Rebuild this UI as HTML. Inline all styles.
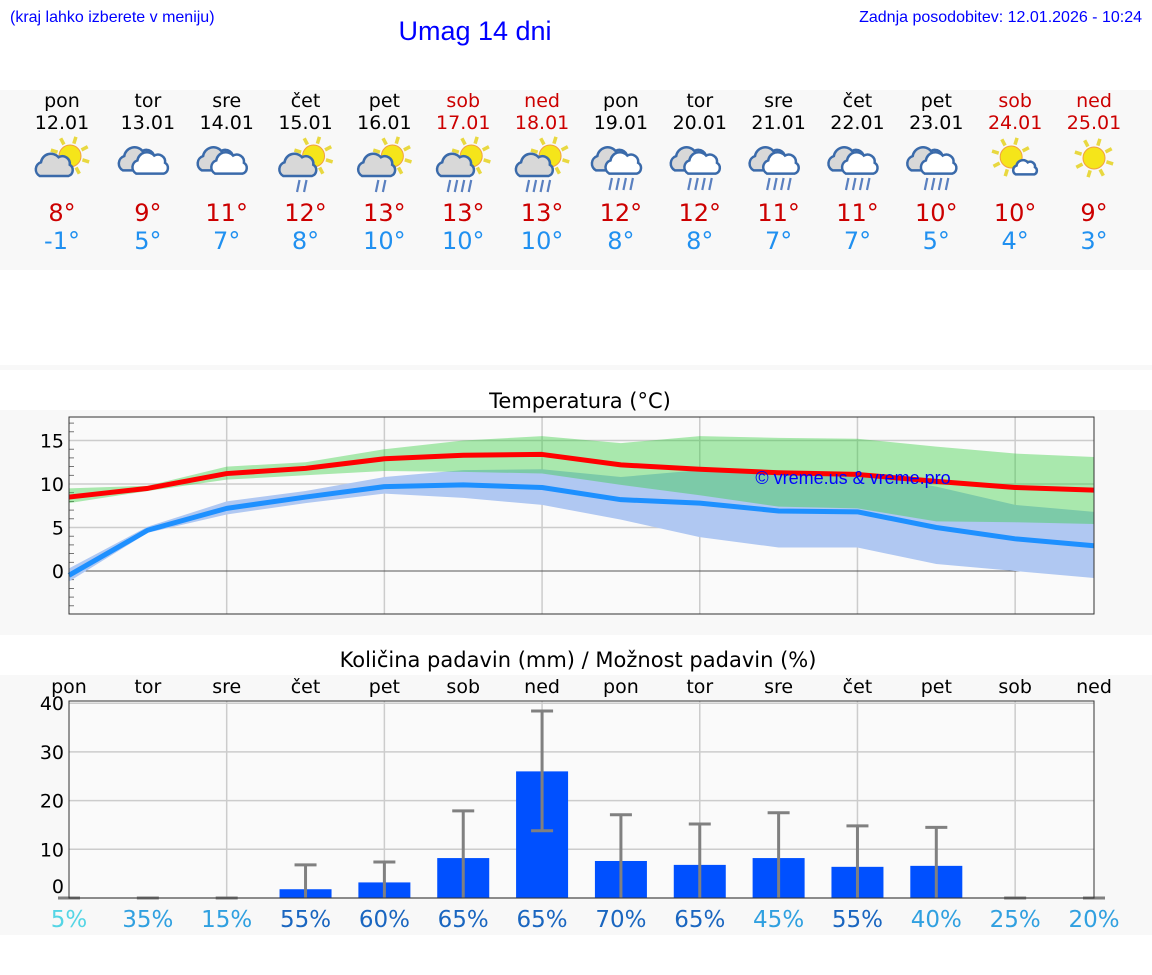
<!DOCTYPE html>
<html><head><meta charset="utf-8"><style>
body{margin:0;background:#fff;width:1152px;height:975px;overflow:hidden}
svg{display:block}
.dj{font-family:"DejaVu Sans","Liberation Sans",sans-serif}
.ar{font-family:"Liberation Sans",Arial,sans-serif}
</style></head><body>
<svg id="s" width="1152" height="975" xmlns="http://www.w3.org/2000/svg">
<text x="10" y="22" class="ar" font-size="16" fill="#0000ff">(kraj lahko izberete v meniju)</text>
<text x="475" y="40" class="ar" font-size="27" fill="#0000ff" text-anchor="middle">Umag 14 dni</text>
<text x="1142" y="22" class="ar" font-size="16" fill="#0000ff" text-anchor="end">Zadnja posodobitev: 12.01.2026 - 10:24</text>
<rect x="0" y="90" width="1152" height="180" fill="#f8f8f8"/>
<rect x="0" y="365" width="1152" height="5" fill="#f8f8f8"/>
<rect x="0" y="410" width="1152" height="225" fill="#f8f8f8"/>
<rect x="0" y="675" width="1152" height="260" fill="#f8f8f8"/>
<g id="daily"></g>
<g id="temp"></g>
<g id="prec"></g>
</svg>
<script>
const dayNames=["pon","tor","sre","čet","pet","sob","ned","pon","tor","sre","čet","pet","sob","ned"];
const dates=["12.01","13.01","14.01","15.01","16.01","17.01","18.01","19.01","20.01","21.01","22.01","23.01","24.01","25.01"];
const icons=["psc","cc","cc","psr","psr","psr2","psr2","cr","cr","cr","cr","cr","sc","s"];
const tMaxDay=[8,9,11,12,13,13,13,12,12,11,11,10,10,9];
const tMinDay=[-1,5,7,8,10,10,10,8,8,7,7,5,4,3];
const tMax=[8.5,9.5,11.2,11.8,12.9,13.3,13.4,12.2,11.7,11.3,11.1,10.3,9.6,9.3];
const tMin=[-0.5,4.7,7.2,8.5,9.7,9.9,9.6,8.2,7.8,6.9,6.8,5.0,3.7,2.9];
const maxHi=[9.5,9.8,12,12.5,14,15,15.5,14.7,15.5,15.3,15.2,14.3,13.5,13.1];
const maxLo=[7.8,9.2,10.5,11,11.5,11.4,11.2,9.9,8.7,7.4,7.2,5.7,5.6,5.4];
const minHi=[0.3,5.1,8,9.2,10.8,11.6,11.7,10.8,11.6,11.5,11.2,9.7,7.6,6.8];
const minLo=[-1.2,4.4,6.5,7.8,8.9,8.4,7.6,5.9,3.9,2.7,2.7,0.8,0,-0.8];
const tempTicks=[0,5,10,15];
const precip=[0,0,0,1.8,3.2,8.2,26,7.6,6.8,8.2,6.4,6.6,0,0];
const precipHi=[0,0,0,6.8,7.4,17.9,38.4,17.1,15.2,17.5,14.8,14.5,0,0];
const precipLo=[0,0,0,0,0,0,13.8,0,0,0,0,0,0,0];
const probability=[5,35,15,55,60,65,65,70,65,45,55,40,25,20];
const precipTicks=[0,10,20,30,40];
const NS="http://www.w3.org/2000/svg";
function mk(p,tag,attrs,txt){const e=document.createElementNS(NS,tag);for(const k in attrs)e.setAttribute(k,attrs[k]);if(txt!==undefined)e.textContent=txt;p.appendChild(e);return e;}
const X0=69,X1=1094,dx=(X1-X0)/13;
const xd=i=>X0+i*dx;
const dcol=i=>(i==5||i==6||i==12||i==13)?"#cc0000":"#000";
const D=document.getElementById('daily');
function sun(g,cx,cy,r){
  for(let a=0;a<8;a++){const an=a*Math.PI/4+0.3;mk(g,'line',{x1:cx+Math.cos(an)*(r+2),y1:cy+Math.sin(an)*(r+2),x2:cx+Math.cos(an)*(r+9),y2:cy+Math.sin(an)*(r+9),stroke:"#e8d840","stroke-width":3.5});}
  mk(g,'circle',{cx:cx,cy:cy,r:r,fill:"#f5e51a",stroke:"#f0a040","stroke-width":1});
}
function cloud(g,cx,cy,s,fill){
  const p=`M${cx-13*s},${cy+8*s} a${6*s},${6*s} 0 0 1 ${1*s},${-11*s} a${8*s},${8*s} 0 0 1 ${14*s},${-4*s} a${6*s},${6*s} 0 0 1 ${9*s},${6*s} a${5*s},${5*s} 0 0 1 ${-1*s},${9*s} z`;
  mk(g,'path',{d:p,fill:fill,stroke:"#3a6aaa","stroke-width":2.5});
}
function rain(g,cx,cy,n){for(let k=0;k<n;k++){const x=cx-(n-1)*3.5+k*7;mk(g,'line',{x1:x+1.5,y1:cy,x2:x-1,y2:cy+12,stroke:"#5a80c0","stroke-width":2.2});}}
for(let i=0;i<14;i++){
  const cx=i==0?62:(i==13?1094:xd(i));
  const g=mk(D,'g',{});
  
  
  mk(g,'text',{x:cx,y:107,"text-anchor":"middle","font-size":19,fill:dcol(i),class:"dj"},dayNames[i]);
  mk(g,'text',{x:cx,y:129,"text-anchor":"middle","font-size":19,fill:dcol(i),class:"dj"},dates[i]);
  const ig=mk(g,'g',{});
  
  
  const t=icons[i],iy=160;
  if(t=="cc"){cloud(ig,cx-8,iy,1.3,"#d8d8d8");cloud(ig,cx+4,iy+4,1.2,"#fff");}
  else if(t=="cr"){cloud(ig,cx-8,iy,1.3,"#d8d8d8");cloud(ig,cx+4,iy+4,1.2,"#fff");rain(ig,cx,iy+18,4);}
  else if(t=="psc"||t=="psr"||t=="psr2"){sun(ig,cx+8,iy-4,11);cloud(ig,cx-6,iy+6,1.25,"#d8d8d8");if(t=="psr")rain(ig,cx-4,iy+20,2);if(t=="psr2")rain(ig,cx-4,iy+20,4);}
  else if(t=="sc"){sun(ig,cx-4,iy-3,11);cloud(ig,cx+11,iy+8,0.8,"#fff");}
  else {sun(ig,cx,iy-2,11);}
  mk(g,'text',{x:cx,y:221,"text-anchor":"middle","font-size":24,fill:"#cc0000",class:"dj"},tMaxDay[i]+"°");
  mk(g,'text',{x:cx,y:249,"text-anchor":"middle","font-size":24,fill:"#2090f0",class:"dj"},tMinDay[i]+"°");
}
const T=document.getElementById('temp');
const TY0=417,TY1=614,tv=v=>571-8.7*v;
mk(T,'text',{x:580,y:408,"text-anchor":"middle","font-size":21,fill:"#000",class:"dj",},"Temperatura (°C)");
mk(T,'rect',{x:X0,y:TY0,width:X1-X0,height:TY1-TY0,fill:"#fafafa",});
for(let i=2;i<14;i+=2)mk(T,'line',{x1:xd(i),x2:xd(i),y1:TY0,y2:TY1,stroke:"#ccc","stroke-width":1.5});
for(let v=-4;v<=17;v++){mk(T,'line',{x1:X0,x2:X0+5,y1:tv(v),y2:tv(v),stroke:"#555","stroke-width":0.8});}
tempTicks.forEach(v=>{if(v!=0)mk(T,'line',{x1:X0,x2:X1,y1:tv(v),y2:tv(v),stroke:"#ccc","stroke-width":1.5});
  const tl=mk(T,'text',{x:64,y:tv(v)+7,"text-anchor":"end","font-size":19,fill:"#000",class:"dj"},String(v));
  });
mk(T,'line',{x1:X0,x2:X1,y1:tv(0),y2:tv(0),stroke:"#555","stroke-width":1});
function band(hi,lo,fill,name){let d="";hi.forEach((v,i)=>d+=(i?"L":"M")+xd(i)+","+tv(v));for(let i=lo.length-1;i>=0;i--)d+="L"+xd(i)+","+tv(lo[i]);const p=mk(T,'path',{d:d+"Z",fill:fill});}
band(minHi,minLo,"#b0c8f2","min-range-band");
band(maxHi,maxLo,"rgba(47,205,57,0.4)","max-range-band");
function line(arr,col,name){const p=mk(T,'polyline',{points:arr.map((v,i)=>xd(i)+","+tv(v)).join(" "),fill:"none",stroke:col,"stroke-width":5,"stroke-linejoin":"round"});}
line(tMin,"#1e90ff","min-temp-line");
line(tMax,"#ff0000","max-temp-line");
mk(T,'text',{x:853,y:484,"text-anchor":"middle","font-size":18,fill:"#0000ff",class:"ar",},"© vreme.us & vreme.pro");
mk(T,'rect',{x:X0,y:TY0,width:X1-X0,height:TY1-TY0,fill:"none",stroke:"#333","stroke-width":1});
const P=document.getElementById('prec');
const PY0=701,PY1=898,pv=v=>898-4.87*v;
mk(P,'text',{x:578,y:667,"text-anchor":"middle","font-size":21,fill:"#000",class:"dj",},"Količina padavin (mm) / Možnost padavin (%)");
mk(P,'rect',{x:X0,y:PY0,width:X1-X0,height:PY1-PY0,fill:"#fafafa",});
for(let i=2;i<14;i+=2)mk(P,'line',{x1:xd(i),x2:xd(i),y1:PY0,y2:PY1,stroke:"#ccc","stroke-width":1.5});
precipTicks.forEach(v=>{mk(P,'line',{x1:X0,x2:X1,y1:pv(v),y2:pv(v),stroke:"#ccc","stroke-width":1.5});
  const tl=mk(P,'text',{x:64,y:(v==0?pv(v)-5:pv(v)+7),"text-anchor":"end","font-size":19,fill:"#000",class:"dj"},String(v));
  });
for(let i=0;i<14;i++){
  const dl=mk(P,'text',{x:xd(i),y:693,"text-anchor":"middle","font-size":19,fill:"#000",class:"dj"},dayNames[i]);
  
  if(precip[i]>0){const b=mk(P,'rect',{x:xd(i)-26,y:pv(precip[i]),width:52,height:pv(0)-pv(precip[i]),fill:"#0050ff"});
    }
  const eg=mk(P,'g',{stroke:"#808080","stroke-width":3});
  
  mk(eg,'line',{x1:xd(i),x2:xd(i),y1:pv(precipLo[i]),y2:pv(precipHi[i])});
  mk(eg,'line',{x1:xd(i)-11,x2:xd(i)+11,y1:pv(precipHi[i]),y2:pv(precipHi[i])});
  if(precipLo[i]>0)mk(eg,'line',{x1:xd(i)-11,x2:xd(i)+11,y1:pv(precipLo[i]),y2:pv(precipLo[i])});
  const pr=probability[i];const col=pr<10?"#55d5e5":(pr>=55?"#1a66c0":"#30a0e0");
  const pl=mk(P,'text',{x:xd(i),y:927,"text-anchor":"middle","font-size":23,fill:col,class:"dj"},pr+"%");
  
}
mk(P,'rect',{x:X0,y:PY0,width:X1-X0,height:PY1-PY0,fill:"none",stroke:"#333","stroke-width":1});
</script>
</body></html>
